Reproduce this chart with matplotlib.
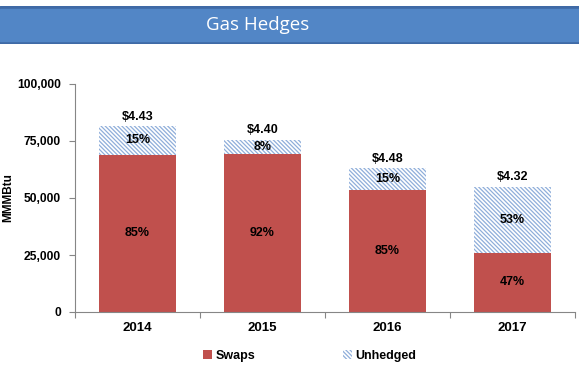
import matplotlib
matplotlib.use("Agg")
import matplotlib.pyplot as plt
from matplotlib.patches import Patch, Rectangle
import numpy as np

years = ["2014", "2015", "2016", "2017"]
swaps = [69000, 69500, 53500, 26000]
unhedged = [12500, 6000, 9500, 29000]
swap_pct = ["85%", "92%", "85%", "47%"]
unh_pct = ["15%", "8%", "15%", "53%"]
prices = ["$4.43", "$4.40", "$4.48", "$4.32"]
yticks = [0, 25000, 50000, 75000, 100000]

plt.rcParams['font.family'] = ['Liberation Sans', 'DejaVu Sans']
plt.rcParams['hatch.linewidth'] = 0.9

RED = '#C0504D'
HATCH = '#8FAEDA'
GREY = '#868686'
HP = '\\' * 8

fig = plt.figure(figsize=(5.79, 3.69), dpi=100)

# banner
bax = fig.add_axes([0, 1 - 44/369, 1, 38/369])
bax.set_xlim(0, 1); bax.set_ylim(0, 1); bax.axis('off')
bax.add_patch(Rectangle((0, 0), 1, 1, color='#3F6AA6', transform=bax.transAxes))
bax.add_patch(Rectangle((0, 0.07), 1, 0.86, color='#5286C6', transform=bax.transAxes))
fig.text(258/579, 1 - 25/369, "Gas Hedges", color='white', fontsize=13.5,
         family=['Open Sans', 'DejaVu Sans'], ha='center', va='center')

ax = fig.add_axes([75/579, 57/369, 500/579, 228/369])
x = np.arange(len(years))
w = 0.61
ax.bar(x, swaps, width=w, color=RED, linewidth=0, zorder=2)
tot = [s + u for s, u in zip(swaps, unhedged)]
ax.bar(x, unhedged, bottom=swaps, width=w, color='white', edgecolor=HATCH,
       hatch=HP, linewidth=0, zorder=2)

FS = 9
for i in range(len(years)):
    ax.text(x[i], swaps[i] / 2, swap_pct[i], ha='center', va='center',
            fontsize=FS, fontweight='bold', zorder=3)
    ax.text(x[i], swaps[i] + unhedged[i] / 2, unh_pct[i], ha='center', va='center',
            fontsize=FS, fontweight='bold', zorder=3)
    ax.annotate(prices[i], (x[i], tot[i]), xytext=(0, 2.5), textcoords='offset points',
                ha='center', va='bottom', fontsize=FS, fontweight='bold')

ax.set_xlim(-0.5, 3.5)
ax.set_ylim(0, 100000)
ax.set_yticks(yticks)
ax.set_yticklabels([f"{v:,}" for v in yticks], fontsize=8.7, fontweight='bold')
ax.set_xticks(x)
ax.set_xticklabels(years, fontsize=9.5, fontweight='bold')
ax.set_xticks(np.arange(-0.5, 4.0, 1.0), minor=True)
ax.tick_params(axis='x', which='major', length=0, pad=7)
ax.tick_params(axis='x', which='minor', length=4, color=GREY, width=0.8)
ax.tick_params(axis='y', length=4, color=GREY, width=0.8, pad=6)
for s in ['top', 'right']:
    ax.spines[s].set_visible(False)
for s in ['left', 'bottom']:
    ax.spines[s].set_color(GREY)
    ax.spines[s].set_linewidth(0.8)
ax.set_ylabel("MMMBtu", fontsize=8.5, fontweight='bold')
ax.yaxis.set_label_coords(-(75 - 14) / 500, 0.5)

handles = [Patch(facecolor=RED, edgecolor='none', label='Swaps'),
           Patch(facecolor='white', edgecolor=HATCH, hatch=HP, linewidth=0, label='Unhedged')]
leg = fig.legend(handles=handles, loc='center', bbox_to_anchor=(310/579, 1 - 356/369),
                 ncol=2, frameon=False, handlelength=0.7, handleheight=0.7,
                 handletextpad=0.3, columnspacing=7.0,
                 prop={'size': 9, 'weight': 'bold'})

fig.savefig("out.png", dpi=100)
